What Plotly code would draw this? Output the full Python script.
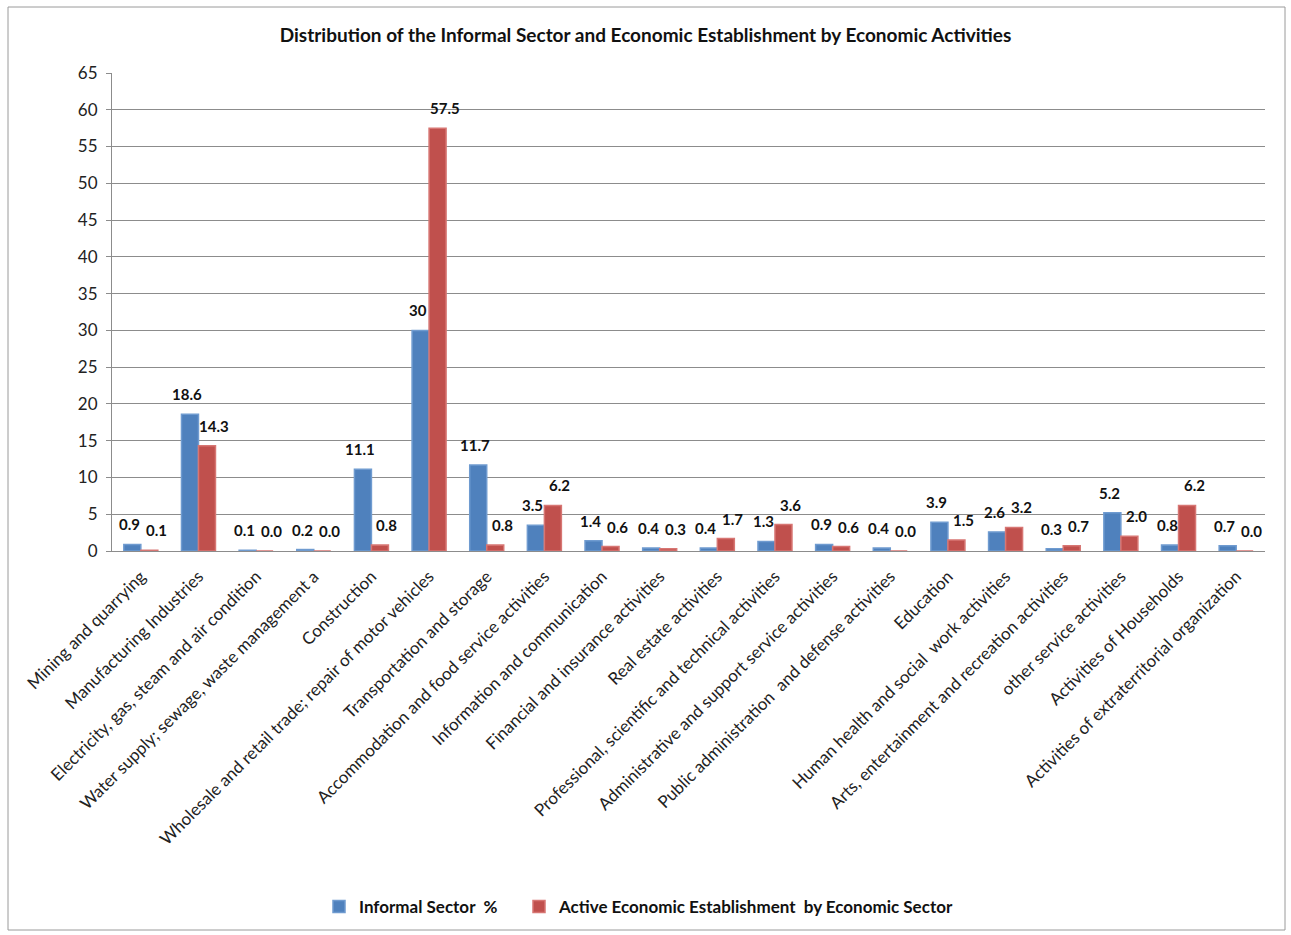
import plotly.graph_objects as go

categories = [
    "Mining and quarrying", "Manufacturing Industries",
    "Electricity, gas, steam and air condition",
    "Water supply; sewage, waste management a", "Construction",
    "Wholesale and retail trade; repair of motor vehicles",
    "Transportation and storage", "Accommodation and food service activities",
    "Information and communication", "Financial and insurance activities",
    "Real estate activities", "Professional, scientific and technical activities",
    "Administrative and support service activities",
    "Public administration  and defense activities", "Education",
    "Human health and social  work activities",
    "Arts, entertainment and recreation activities", "other service activities",
    "Activities of Households", "Activities of extraterritorial organization",
]
informal = [0.9, 18.6, 0.1, 0.2, 11.1, 30, 11.7, 3.5, 1.4, 0.4, 0.4, 1.3, 0.9, 0.4, 3.9, 2.6, 0.3, 5.2, 0.8, 0.7]
active = [0.1, 14.3, 0.0, 0.0, 0.8, 57.5, 0.8, 6.2, 0.6, 0.3, 1.7, 3.6, 0.6, 0.0, 1.5, 3.2, 0.7, 2.0, 6.2, 0.0]
informal_labels = ["0.9", "18.6", "0.1", "0.2", "11.1", "30", "11.7", "3.5", "1.4", "0.4", "0.4", "1.3", "0.9", "0.4", "3.9", "2.6", "0.3", "5.2", "0.8", "0.7"]
active_labels = ["0.1", "14.3", "0.0", "0.0", "0.8", "57.5", "0.8", "6.2", "0.6", "0.3", "1.7", "3.6", "0.6", "0.0", "1.5", "3.2", "0.7", "2.0", "6.2", "0.0"]
y_ticks = list(range(0, 70, 5))

FONT = "Lato, Open Sans, sans-serif"
BLUE = "#4F81BD"
RED = "#C0504D"
BARGAP = 0.41

fig = go.Figure()
fig.add_trace(go.Bar(
    x=categories, y=informal, name="Informal Sector  %",
    marker=dict(color=BLUE, line=dict(color="#6f9bd0", width=1.5)),
    legend="legend",
))
fig.add_trace(go.Bar(
    x=categories, y=active, name="Active Economic Establishment  by Economic Sector",
    marker=dict(color=RED, line=dict(color="#d77673", width=1.5)),
    legend="legend2",
))

# value labels, placed above each bar (data coordinates, category index offsets)
half = (1 - BARGAP) / 4
annotations = []
for i in range(len(categories)):
    for val, lab, off, xs in ((informal[i], informal_labels[i], -half, -3),
                               (active[i], active_labels[i], half, 7)):
        annotations.append(dict(
            x=i + off, y=val, xref="x", yref="y", text=lab, showarrow=False,
            xanchor="center", yanchor="bottom", xshift=xs, yshift=9,
            font=dict(family=FONT, size=15, color="#111111", weight="bold"),
        ))

L, T, R, B = 112, 73, 26, 384
W, H = 1291, 935
pw, ph = W - L - R, H - T - B

def px(x):
    return (x - L) / pw

def py(y):
    return (H - B - y) / ph

legend_style = dict(
    orientation="h", xanchor="left", y=py(907), yanchor="middle",
    font=dict(family=FONT, size=17, color="#111111", weight="bold"),
    itemwidth=30, bgcolor="rgba(0,0,0,0)",
)

fig.update_layout(
    width=W, height=H,
    margin=dict(l=L, r=R, t=T, b=B, autoexpand=False),
    paper_bgcolor="white", plot_bgcolor="white",
    barmode="group", bargap=BARGAP, bargroupgap=0,
    font=dict(family=FONT, size=14, color="#111111"),
    title=dict(
        text="Distribution of the Informal Sector and Economic Establishment by Economic Activities",
        x=0.5, xanchor="center", y=1 - 35 / H, yanchor="middle",
        font=dict(family=FONT, size=19, color="#111111", weight="bold"),
    ),
    showlegend=True,
    legend=dict(x=px(319), **legend_style),
    legend2=dict(x=px(519), **legend_style),
    xaxis=dict(
        tickangle=-45, showline=True, linecolor="#8c8c8c", linewidth=1,
        tickfont=dict(family=FONT, size=17, color="#222222"),
        ticks="", showgrid=False, ticklabelstandoff=8,
    ),
    yaxis=dict(
        range=[0, 65], tickvals=y_ticks, showgrid=True, gridcolor="#8c8c8c",
        gridwidth=1, showline=True, linecolor="#8c8c8c", linewidth=1,
        ticks="outside", ticklen=5, tickcolor="#8c8c8c",
        tickfont=dict(family=FONT, size=17, color="#222222"), zeroline=False,
        ticklabelstandoff=5,
    ),
    annotations=annotations,
    shapes=[dict(
        type="rect", xref="paper", yref="paper",
        x0=px(8), x1=px(1285), y0=py(930), y1=py(7),
        line=dict(color="#9a9a9a", width=1), fillcolor="rgba(0,0,0,0)", layer="below",
    )],
)

fig.write_html("out.html")
